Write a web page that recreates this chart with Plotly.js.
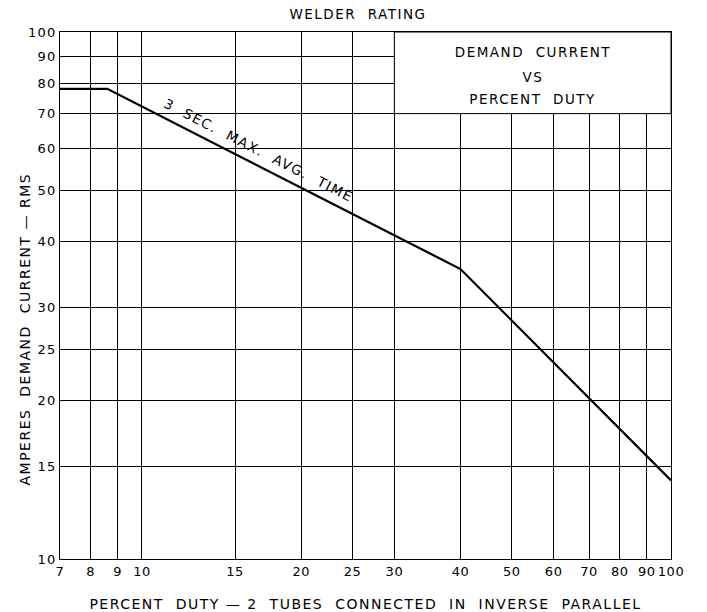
<!DOCTYPE html>
<html>
<head>
<meta charset="utf-8">
<script src="https://cdn.plot.ly/plotly-3.0.1.min.js"></script>
<style>
html,body{margin:0;padding:0;background:#fff;}
#chart{width:707px;height:612px;}
#chart .xtick text{letter-spacing:0.5px;}
#chart .ytick text{letter-spacing:1.2px;}
#chart .gtitle, #chart .xtitle, #chart .annotation-text{letter-spacing:1.5px;}
</style>
</head>
<body>
<div id="chart"></div>
<script>
// Data
var dutyPercent = [7, 8.6, 40, 100];
var demandAmps = [78, 78, 35.5, 14.1];
var xTicks = [7, 8, 9, 10, 15, 20, 25, 30, 40, 50, 60, 70, 80, 90, 100];
var yTicks = [10, 15, 20, 25, 30, 40, 50, 60, 70, 80, 90, 100];
var curveLabel = "3  SEC.  MAX.  AVG.  TIME";
var boxLines = ["DEMAND  CURRENT", "VS", "PERCENT  DUTY"];
var yTitle = "AMPERES  DEMAND  CURRENT — RMS";
var xTitle = "PERCENT  DUTY — 2  TUBES  CONNECTED  IN  INVERSE  PARALLEL";

var FONT = "DejaVu Sans, Liberation Sans, sans-serif";
var L = Math.log10;
var plotL = 60, plotR = 671, plotT = 32, plotB = 559;
function px(x){ return (x - plotL) / (plotR - plotL); }
function py(y){ return (plotB - y) / (plotB - plotT); }

var trace = {
  x: dutyPercent, y: demandAmps, type: "scatter", mode: "lines",
  line: {color: "#000", width: 2.2}, hoverinfo: "skip", showlegend: false
};

var annotations = [
  {x: L(16.6), y: L(59.6), xref: "x", yref: "y", text: curveLabel, showarrow: false,
   xanchor: "center", yanchor: "middle",
   textangle: 27, font: {family: FONT, size: 13.5, color: "#000"}},
  {x: px(25), y: py(329), xref: "paper", yref: "paper", text: yTitle, showarrow: false,
   xanchor: "center", yanchor: "middle", textangle: -90,
   font: {family: FONT, size: 14, color: "#000"}}
];
var boxY = [52, 77, 99];
boxLines.forEach(function(t, i){
  annotations.push({x: px(533), y: py(boxY[i]),
    xref: "paper", yref: "paper", xanchor: "center", yanchor: "middle",
    text: t, showarrow: false, font: {family: FONT, size: 13.5, color: "#000"}});
});

var layout = {
  width: 707, height: 612,
  margin: {l: plotL, r: 707 - plotR, t: plotT, b: 612 - plotB},
  paper_bgcolor: "#fff", plot_bgcolor: "#fff",
  font: {family: FONT, size: 13, color: "#000"},
  title: {text: "WELDER  RATING", x: 358 / 707, xanchor: "center", y: 1 - 14 / 612, yanchor: "middle",
          font: {family: FONT, size: 13.5, color: "#000"}},
  xaxis: {
    type: "log", range: [L(7), L(100)], tickmode: "array", tickvals: xTicks,
    ticktext: xTicks.map(String), showgrid: true, gridcolor: "#000", gridwidth: 1,
    showline: true, linecolor: "#000", linewidth: 1, mirror: true, ticks: "",
    zeroline: false, tickfont: {family: FONT, size: 13, color: "#000"},
    title: {text: xTitle, font: {family: FONT, size: 14, color: "#000"}, standoff: 22}
  },
  yaxis: {
    type: "log", range: [1, 2], tickmode: "array", tickvals: yTicks,
    ticktext: yTicks.map(String), showgrid: true, gridcolor: "#000", gridwidth: 1,
    showline: true, linecolor: "#000", linewidth: 1, mirror: true, ticks: "",
    zeroline: false, tickfont: {family: FONT, size: 13, color: "#000"}
  },
  shapes: [
    {type: "rect", xref: "x", yref: "y", x0: 30, x1: 100, y0: 70, y1: 100,
     fillcolor: "#fff", line: {color: "#000", width: 1}, layer: "above"}
  ],
  annotations: annotations
};

Plotly.newPlot("chart", [trace], layout, {displayModeBar: false, staticPlot: true});
</script>
</body>
</html>
